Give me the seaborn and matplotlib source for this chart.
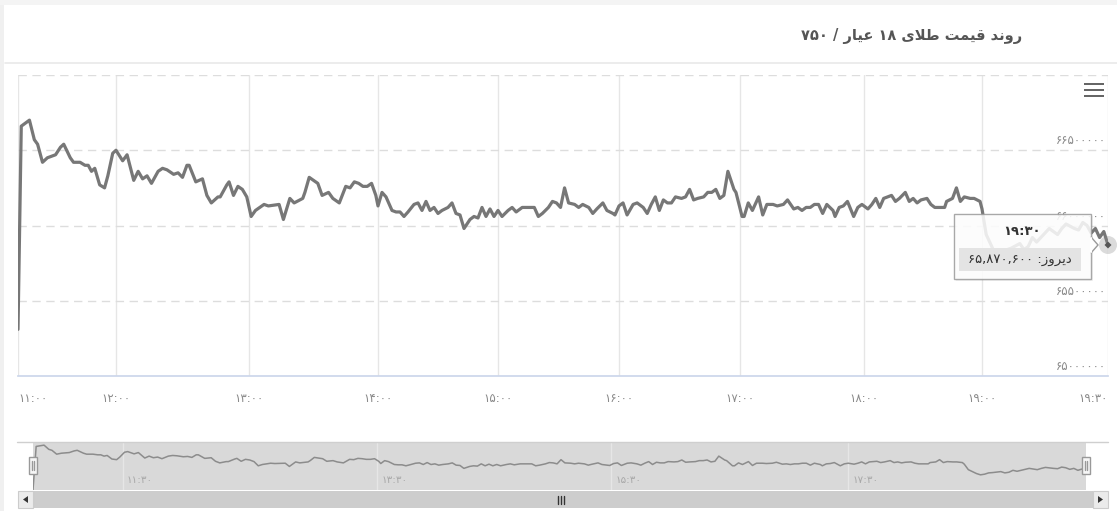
import numpy as np
import pandas as pd
import matplotlib
matplotlib.use('Agg')
import matplotlib.pyplot as plt
from matplotlib.patches import Rectangle, Polygon, Circle
from matplotlib.lines import Line2D
from matplotlib.transforms import IdentityTransform, offset_copy
import seaborn as sns

sns.set_theme(style='white')
plt.rcParams['font.family'] = ['DejaVu Sans']

# ---- data ----
title = 'روند قیمت طلای ۱۸ عیار / ۷۵۰'
series_name = 'دیروز'

# minutes after 11:00
minute = [0, 2, 7, 10, 12, 15, 18, 23, 26, 28, 32, 34, 38, 41, 43, 45, 47, 50, 53, 55, 58,
          60, 63, 65, 68, 70, 72, 74, 76, 79, 81, 83, 86, 88, 90, 92, 93, 96, 99, 101, 103, 106, 107, 110, 111, 113, 115, 117, 119,
          121, 123, 127, 129, 134, 136, 139, 141, 145, 146, 148, 151, 152, 154, 157, 159, 162, 165, 167, 169, 171, 173, 175, 177, 179,
          180, 182, 184, 187, 189, 191, 193, 195, 198, 200, 202, 204, 206, 208, 210, 212, 215, 217, 219, 221, 223, 226, 228, 230, 232, 234, 236, 238,
          240, 242, 245, 247, 249, 252, 254, 257, 258, 260, 262, 265, 267, 269, 271, 273, 275, 278, 280, 282, 285, 287, 289, 292, 294, 297, 298,
          300, 302, 304, 307, 309, 312, 314, 316, 318, 320, 322, 324, 326, 328, 331, 333, 335, 337, 339, 342, 344, 346, 348, 350, 352, 354, 357, 358,
          361, 362, 364, 366, 369, 371, 373, 376, 378, 381, 383, 386, 388, 390, 392, 394, 396, 398, 400, 402, 405, 406, 408, 410, 412, 415, 417, 419,
          422, 424, 426, 428, 430, 432, 434, 436, 438, 441, 443, 445, 447, 449, 452, 454, 456, 458, 461, 462, 465, 467, 469, 471, 474, 476, 479, 480,
          481, 483, 484, 485, 486, 487, 489, 490, 491, 492, 493, 494, 496, 497, 498, 499, 500, 502, 503, 504, 505, 506, 507, 508, 509, 510]

# price, thousands
price_k = [65310, 66660, 66700, 66570, 66540, 66420, 66450, 66470, 66520, 66540, 66450, 66420, 66420, 66400, 66400, 66360, 66380, 66270, 66250, 66330, 66480,
           66500, 66430, 66470, 66300, 66360, 66310, 66330, 66280, 66360, 66380, 66370, 66340, 66350, 66320, 66400, 66400, 66290, 66310, 66200, 66150, 66190, 66190, 66270, 66290, 66200, 66260, 66240, 66190,
           66060, 66100, 66140, 66130, 66140, 66040, 66180, 66150, 66180, 66220, 66320, 66290, 66280, 66200, 66220, 66180, 66150, 66260, 66250, 66290, 66280, 66260, 66260, 66280, 66200,
           66130, 66220, 66190, 66100, 66090, 66090, 66060, 66090, 66140, 66150, 66100, 66160, 66100, 66120, 66080, 66100, 66120, 66150, 66080, 66070, 65980, 66040, 66060, 66050, 66120, 66060, 66110, 66060,
           66100, 66060, 66100, 66120, 66090, 66120, 66120, 66120, 66120, 66060, 66080, 66120, 66160, 66150, 66120, 66250, 66150, 66140, 66120, 66140, 66120, 66080, 66110, 66150, 66100, 66080, 66070,
           66130, 66150, 66070, 66140, 66150, 66120, 66080, 66140, 66190, 66100, 66170, 66150, 66150, 66190, 66180, 66190, 66240, 66170, 66180, 66190, 66220, 66220, 66240, 66180, 66200, 66360, 66240, 66220,
           66060, 66060, 66150, 66100, 66190, 66070, 66140, 66140, 66130, 66140, 66170, 66110, 66120, 66100, 66120, 66120, 66140, 66140, 66080, 66140, 66100, 66060, 66120, 66130, 66160, 66060, 66120, 66140,
           66110, 66140, 66180, 66120, 66180, 66190, 66200, 66160, 66180, 66220, 66160, 66180, 66150, 66170, 66180, 66140, 66120, 66120, 66120, 66160, 66180, 66250, 66160, 66190, 66180, 66180, 66160, 66110,
           65940, 65820, 65780, 65800, 65840, 65850, 65880, 65840, 65860, 65920, 65890, 65920, 65980, 65960, 65940, 65980, 66010, 65980, 65970, 66020, 66000, 65950, 65980, 65920, 65960, 65870.6]

hour_min = [0, 60, 120, 180, 240, 300, 360, 420, 480, 510]
hour_labels = ['۱۱:۰۰', '۱۲:۰۰', '۱۳:۰۰', '۱۴:۰۰', '۱۵:۰۰', '۱۶:۰۰', '۱۷:۰۰', '۱۸:۰۰', '۱۹:۰۰', '۱۹:۳۰']
y_ticks = [65000000, 65500000, 66000000, 66500000, 67000000]
nav_labels = ['۱۱:۳۰', '۱۳:۳۰', '۱۵:۳۰', '۱۷:۳۰']

df = pd.DataFrame({'minute': minute, 'price': np.array(price_k) * 1000})

# ordinal-like axis (hours are not evenly spaced in the source chart)
ordinal_pos = [0, 98, 231, 360, 480, 601, 722, 846, 964, 1090]
def to_slot(t):
    return np.interp(t, hour_min, ordinal_pos)
def from_slot(u):
    return np.interp(u, ordinal_pos, hour_min)

FA_DIGITS = '۰۱۲۳۴۵۶۷۸۹'
def to_fa(s):
    return str(s).translate(str.maketrans('0123456789', FA_DIGITS))

# minimal persian shaping -> presentation forms, then visual order
FORMS = {  # isolated, final, initial, medial
    '\u0627': ('\u0627', '\uFE8E', None, None),
    '\u062F': ('\u062F', '\uFEAA', None, None),
    '\u0631': ('\u0631', '\uFEAE', None, None),
    '\u0632': ('\u0632', '\uFEB0', None, None),
    '\u0648': ('\u0648', '\uFEEE', None, None),
    '\u0646': ('\u0646', '\uFEE6', '\uFEE7', '\uFEE8'),
    '\u0642': ('\u0642', '\uFED6', '\uFED7', '\uFED8'),
    '\u06CC': ('\u06CC', '\uFBFD', '\uFEF3', '\uFEF4'),
    '\u064A': ('\u06CC', '\uFBFD', '\uFEF3', '\uFEF4'),
    '\u0645': ('\u0645', '\uFEE2', '\uFEE3', '\uFEE4'),
    '\u062A': ('\u062A', '\uFE96', '\uFE97', '\uFE98'),
    '\u0637': ('\u0637', '\uFEC2', '\uFEC3', '\uFEC4'),
    '\u0644': ('\u0644', '\uFEDE', '\uFEDF', '\uFEE0'),
    '\u0639': ('\u0639', '\uFECA', '\uFECB', '\uFECC'),
}

def shape(text):
    out = []
    i, n = 0, len(text)
    while i < n:
        c = text[i]
        prev = text[i - 1] if i > 0 else None
        joins_prev = prev in FORMS and FORMS[prev][2] is not None
        if c == '\u0644' and i + 1 < n and text[i + 1] == '\u0627':
            out.append('\uFEFC' if joins_prev else '\uFEFB')
            i += 2
            continue
        if c not in FORMS:
            out.append(c)
            i += 1
            continue
        nxt = text[i + 1] if i + 1 < n else None
        iso, fin, ini, med = FORMS[c]
        joins_next = ini is not None and nxt in FORMS
        if joins_prev and joins_next:
            out.append(med)
        elif joins_prev:
            out.append(fin)
        elif joins_next:
            out.append(ini)
        else:
            out.append(iso)
        i += 1
    return out

def rtl(text):
    runs = []
    for g in shape(text):
        ltr = g in FA_DIGITS or g.isdigit() or g == ','
        if runs and runs[-1][0] == ltr:
            runs[-1][1].append(g)
        else:
            runs.append([ltr, [g]])
    out = ''
    for ltr, chars in reversed(runs):
        out += ''.join(chars if ltr else reversed(chars))
    return out

W, H = 1117, 511
fig = plt.figure(figsize=(W / 100, H / 100), dpi=100)
fig.patch.set_facecolor('white')

def img_rect(x0, y0, x1, y1, **kw):
    r = Rectangle((x0, H - y1), x1 - x0, y1 - y0, transform=IdentityTransform(), **kw)
    fig.add_artist(r)
    return r

def img_line(xs, ys, **kw):
    l = Line2D(xs, [H - y for y in ys], transform=IdentityTransform(), **kw)
    fig.add_artist(l)
    return l

# page frame / header
img_rect(0, 0, 4, H, facecolor='#f0f0f0', edgecolor='none')
img_rect(0, 0, W, 5, facecolor='#f4f4f4', edgecolor='none')
img_line([5, W], [63, 63], color='#e9e9e9', lw=1.2)
fig.text(1022 / W, 1 - 36 / H, rtl(title), ha='right', va='center', fontsize=10.5,
         color='#555555', fontweight='bold')

# ---- main chart ----
ax = fig.add_axes([18 / W, 1 - 376 / H, 1090 / W, 301 / H])
sns.lineplot(data=df, x='minute', y='price', ax=ax, color='#777777', linewidth=2.3, zorder=3)
ax.set_xscale('function', functions=(to_slot, from_slot))
ax.set_xlim(0, 510)
ax.set_ylim(y_ticks[0], y_ticks[-1])
ax.set_xticks(hour_min, hour_labels)
ax.set_yticks(y_ticks[1:])
ax.tick_params(axis='y', length=0, labelleft=False)
ax.tick_params(axis='x', direction='out', length=7.2, width=1, color='#ccd6eb', pad=4,
               labelsize=8.5, labelcolor='#8a8a8a')
ax.set_xlabel('')
ax.set_ylabel('')
ax.grid(axis='x', color='#e6e6e6', linewidth=1)
ax.grid(axis='y', color='#dddddd', linewidth=1, linestyle=(0, (6, 4)))
for s in ['top', 'left', 'right']:
    ax.spines[s].set_visible(False)
ax.spines['bottom'].set_color('#ccd6eb')
tl = ax.get_xticklabels()
tl[0].set_ha('left')
tl[-1].set_ha('right')

ylab_tr = offset_copy(ax.get_yaxis_transform(), fig=fig, x=0, y=2, units='points')
for v in y_ticks[:-1]:
    ax.text(0.998, v, to_fa(v), transform=ylab_tr, ha='right', va='bottom', fontsize=8.5, color='#8a8a8a')

# hamburger menu
for yy in (84, 90, 96):
    img_rect(1084, yy - 1.3, 1104, yy + 1.3, facecolor='#666666', edgecolor='none')

# ---- tooltip at last point ----
px0, py0 = ax.transData.transform((df['minute'].iloc[-1], df['price'].iloc[-1]))
xi, yi = px0, H - py0
img_rect(xi - 152, yi - 29, xi - 15, yi + 36, facecolor='#000000', alpha=0.06, edgecolor='none', zorder=4)
img_rect(xi - 154, yi - 31, xi - 17, yi + 34, facecolor='white', alpha=0.86, edgecolor='#9a9a9a', lw=1, zorder=5)
ptr = Polygon([(xi - 17, H - (yi - 8)), (xi - 10, H - yi), (xi - 17, H - (yi + 8))], closed=True,
              transform=IdentityTransform(), facecolor='white', edgecolor='#9a9a9a', lw=1, zorder=6)
fig.add_artist(ptr)
img_line([xi - 17, xi - 17], [yi - 7, yi + 7], color='white', lw=1.5, zorder=7)
img_rect(xi - 149, yi + 3, xi - 27, yi + 26, facecolor='#e4e4e4', edgecolor='none', zorder=6)
fig.text((xi - 86) / W, 1 - (yi - 13) / H, hour_labels[-1], ha='center', va='center',
         fontsize=9.5, color='#333333', fontweight='bold', zorder=8)
tip_value = to_fa(f"{int(round(df['price'].iloc[-1])):,}")
fig.text((xi - 88) / W, 1 - (yi + 14.5) / H, rtl(series_name + ': ' + tip_value), ha='center', va='center',
         fontsize=9.5, color='#333333', zorder=8)
fig.add_artist(Circle((px0, py0), 9, transform=IdentityTransform(), facecolor='#888888', alpha=0.3,
                      edgecolor='none', zorder=8))
fig.add_artist(Polygon([(px0 - 3.5, py0), (px0, py0 + 3.5), (px0 + 3.5, py0), (px0, py0 - 3.5)],
                       closed=True, transform=IdentityTransform(), facecolor='#555555',
                       edgecolor='none', zorder=9))

# ---- navigator ----
nav = fig.add_axes([33 / W, 1 - 490 / H, 1053 / W, 48 / H])
nav.set_facecolor('#d9d9d9')
sns.lineplot(data=df, x='minute', y='price', ax=nav, color='#8c8c8c', linewidth=1.1)
nav.set_xscale('function', functions=(to_slot, from_slot))
nav.set_xlim(0, 510)
lo, hi = df['price'].min(), df['price'].max()
nav.set_ylim(lo, hi + (hi - lo) * 0.07)
nav.set_xticks([])
nav.set_yticks([])
nav.set_xlabel('')
nav.set_ylabel('')
for s in nav.spines.values():
    s.set_visible(False)
for f, lab in zip([0.085, 0.327, 0.549, 0.774], nav_labels):
    nav.plot([f, f], [0, 1], transform=nav.transAxes, color='#e6e6e6', lw=1, zorder=1)
    nav.text(f + 0.004, 0.2, lab, transform=nav.transAxes, ha='left', va='center',
             fontsize=7.5, color='#a8a8a8')
img_line([17, 1108], [441.5, 441.5], color='#cfcfcf', lw=1)

# handles
for hx in (33, 1086):
    img_rect(hx - 4, 457, hx + 4, 474, facecolor='#f6f6f6', edgecolor='#999999', lw=1, zorder=3)
    img_line([hx - 1, hx - 1], [461, 470], color='#999999', lw=1, zorder=4)
    img_line([hx + 1, hx + 1], [461, 470], color='#999999', lw=1, zorder=4)

# scrollbar
img_rect(18, 491, 1108, 508, facecolor='#f2f2f2', edgecolor='none')
img_rect(33, 491, 1093, 508, facecolor='#cdcdcd', edgecolor='none')
img_rect(18, 491, 33, 508, facecolor='#ebebeb', edgecolor='#cccccc', lw=0.8)
img_rect(1093, 491, 1108, 508, facecolor='#ebebeb', edgecolor='#cccccc', lw=0.8)
fig.add_artist(Polygon([(28, H - 496), (23, H - 499.5), (28, H - 503)], closed=True,
                       transform=IdentityTransform(), facecolor='#333333', edgecolor='none'))
fig.add_artist(Polygon([(1098, H - 496), (1103, H - 499.5), (1098, H - 503)], closed=True,
                       transform=IdentityTransform(), facecolor='#333333', edgecolor='none'))
for gx in (558, 561, 564):
    img_line([gx, gx], [495.5, 503.5], color='#333333', lw=1)

fig.savefig('out.png', dpi=100, facecolor=fig.get_facecolor())
